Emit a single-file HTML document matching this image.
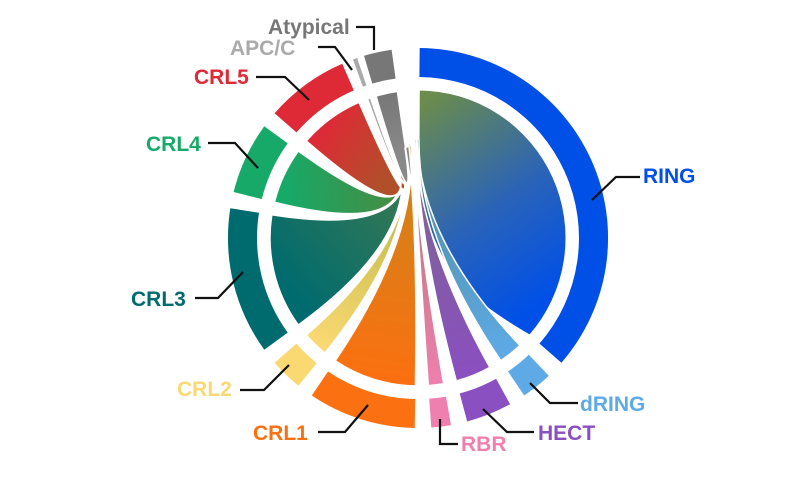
<!DOCTYPE html>
<html><head><meta charset="utf-8"><style>
html,body{margin:0;padding:0;background:#fff;width:800px;height:477px;overflow:hidden}
text{font-family:"Liberation Sans",Arial,sans-serif;font-weight:bold;font-size:21px}
</style></head><body>
<svg id="s" width="800" height="477" xmlns="http://www.w3.org/2000/svg"><defs id="d"></defs><g id="g"></g></svg>
<script>
var cx=418,cy=238,R1=190,R2=161,RC=148;
function pt(r,a){a=a*Math.PI/180;return [cx+r*Math.sin(a),cy-r*Math.cos(a)];}
function f(p){return p[0].toFixed(1)+","+p[1].toFixed(1);}
var groups=[
 ["RING","#0050e8",0.5,131],
 ["dRING","#5eaae6",136.5,146],
 ["HECT","#8a4fc0",151,165],
 ["RBR","#ef7fae",170,176],
 ["CRL1","#fb7010",181,214],
 ["CRL2","#fad972",219,229],
 ["CRL3","#006b6e",234,279],
 ["CRL4","#17a968",284,306],
 ["CRL5","#de2a36",311,336.5],
 ["APC","#aaaaaa",340,341.3],
 ["Atyp","#777777",343.5,352]
];
var mix={"dRING":"#4f8a96","HECT":"#7a6a8a","RBR":"#b07a70","CRL1":"#c8861c","CRL2":"#b0b040","CRL3":"#3d7a50","CRL4":"#4a8a40","CRL5":"#b0502a","APC":"#999","Atyp":"#888"};
var ends={"dRING":[[417,135],[419,140]],"HECT":[[414,135],[416,140]],"RBR":[[412,140],[413,144]],"CRL1":[[408,140],[411,146]],"CRL2":[[405,148],[407,152]],"CRL3":[[400,160],[404,158]],"CRL4":[[398,162],[402,160]],"CRL5":[[398,164],[401,162]],"APC":[[403,150],[404,150]],"Atyp":[[405,148],[409,146]]};
var g=document.getElementById("g"),d=document.getElementById("d"),h="",dh="";
groups.forEach(function(G,i){
 var n=G[0],c=G[1],a1=G[2],a2=G[3];
 var o1=pt(R1,a1),o2=pt(R1,a2),i1=pt(R2,a2),i2=pt(R2,a1);
 var lg=(a2-a1)>180?1:0;
 h+='<path d="M'+f(o1)+' A'+R1+','+R1+' 0 '+lg+' 1 '+f(o2)+' L'+f(i1)+' A'+R2+','+R2+' 0 '+lg+' 0 '+f(i2)+'Z" fill="'+c+'"/>';
 var c1=pt(RC,a1),c2=pt(RC,a2);
 if(n=="RING"){
  dh+='<linearGradient id="gr0" gradientUnits="userSpaceOnUse" x1="560" y1="290" x2="425" y2="100"><stop offset="0" stop-color="#0050e8"/><stop offset="0.45" stop-color="#2a63b8"/><stop offset="1" stop-color="#6b8c4c"/></linearGradient>';
  h+='<path d="M'+f(c1)+' A'+RC+','+RC+' 0 0 1 '+f(c2)+' C470,300 420,265 419,150 Z" fill="url(#gr0)" stroke="#fff" stroke-width="1"/>';
 } else {
  var e=ends[n],m=pt(RC,(a1+a2)/2);
  dh+='<linearGradient id="gr'+i+'" gradientUnits="userSpaceOnUse" x1="'+m[0]+'" y1="'+m[1]+'" x2="'+e[0][0]+'" y2="'+e[0][1]+'"><stop offset="0" stop-color="'+c+'"/><stop offset="1" stop-color="'+mix[n]+'"/></linearGradient>';
  h+='<path d="M'+f(c1)+' A'+RC+','+RC+' 0 0 1 '+f(c2)+' Q'+cx+','+cy+' '+e[1][0]+','+e[1][1]+' L'+e[0][0]+','+e[0][1]+' Q'+cx+','+cy+' '+f(c1)+'Z" fill="url(#gr'+i+')" stroke="#fff" stroke-width="1.5"/>';
 }
});
d.innerHTML=dh;
var L=[
 ["RING","#0050e8",643,183,"592,200 616,177 640,177"],
 ["dRING","#5eaae6",580,411,"530,383 550,403 578,403"],
 ["HECT","#8a4fc0",538,440,"483,409 507,432 534,432"],
 ["RBR","#ef7fae",461,451,"440,419 440,444 458,444"],
 ["CRL1","#fb7010",253,440,"368,405 345,432 318,432"],
 ["CRL2","#fad972",177,396,"289,365 264,390 240,390"],
 ["CRL3","#006b6e",131,306,"243,272 218,298 195,298"],
 ["CRL4","#17a968",146,151,"258,168 235,143 208,143"],
 ["CRL5","#de2a36",194,84,"309,100 285,77 256,77"],
 ["APC/C","#aaaaaa",230,55,"352,70 335,47 318,47"],
 ["Atypical","#777777",268,34,"374,50 374,27 356,27"]
];
L.forEach(function(l){
 h+='<polyline points="'+l[4]+'" fill="none" stroke="#111" stroke-width="2.2"/>';
 h+='<text x="'+l[2]+'" y="'+l[3]+'" fill="'+l[1]+'">'+l[0]+'</text>';
});
g.innerHTML=h;
</script>
</body></html>
